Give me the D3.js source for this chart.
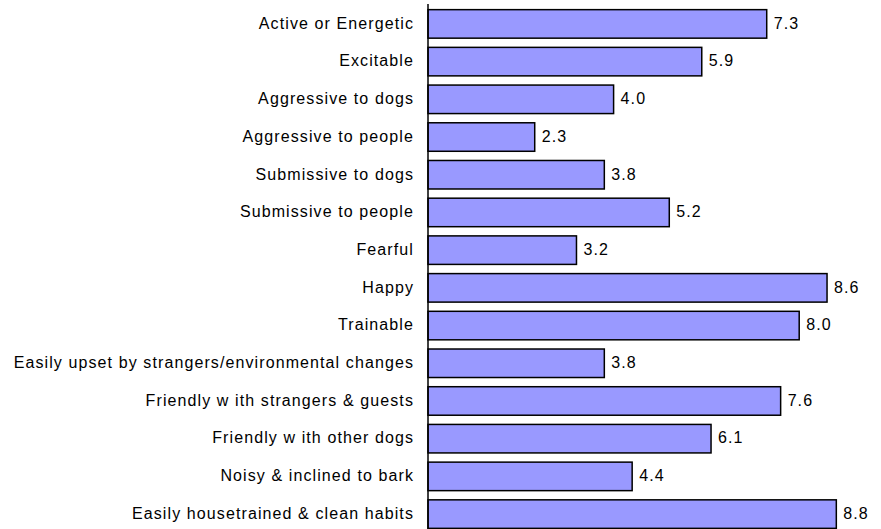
<!DOCTYPE html>
<html>
<head>
<meta charset="utf-8">
<script src="https://d3js.org/d3.v7.min.js"></script>
<style>
  body { margin: 0; background: #fff; }
  text { font-family: Arial, "Liberation Sans", sans-serif; font-size: 16px; letter-spacing: 1.1px; fill: #000; }
</style>
</head>
<body>
<div id="chart"></div>
<script>
// trait scores, top to bottom
var traits = [
  "Active or Energetic",
  "Excitable",
  "Aggressive to dogs",
  "Aggressive to people",
  "Submissive to dogs",
  "Submissive to people",
  "Fearful",
  "Happy",
  "Trainable",
  "Easily upset by strangers/environmental changes",
  "Friendly w ith strangers & guests",
  "Friendly w ith other dogs",
  "Noisy & inclined to bark",
  "Easily housetrained & clean habits"
];
var scores = [7.3, 5.9, 4.0, 2.3, 3.8, 5.2, 3.2, 8.6, 8.0, 3.8, 7.6, 6.1, 4.4, 8.8];

var width = 881, height = 529,
    axisX = 428;

var svg = d3.select("#chart").append("svg")
    .attr("width", width)
    .attr("height", height);

var x = d3.scaleLinear()
    .domain([0, 10])
    .range([axisX, axisX + 464]);

var y = d3.scaleBand()
    .domain(traits)
    .range([4, 534])
    .paddingInner(0.244)
    .paddingOuter(0.15);

var data = traits.map(function(t, i) { return {trait: t, score: scores[i]}; });

svg.selectAll(".bar")
    .data(data)
    .enter().append("rect")
      .attr("class", "bar")
      .attr("x", x(0))
      .attr("y", function(d) { return y(d.trait); })
      .attr("width", function(d) { return x(d.score) - x(0); })
      .attr("height", y.bandwidth())
      .attr("fill", "#9999ff")
      .attr("stroke", "#000")
      .attr("stroke-width", 1.5);

svg.selectAll(".val")
    .data(data)
    .enter().append("text")
      .attr("class", "val")
      .attr("x", function(d) { return x(d.score) + 7; })
      .attr("y", function(d) { return y(d.trait) + y.bandwidth() / 2; })
      .attr("dy", "0.3em")
      .text(function(d) { return d.score.toFixed(1); });

// category axis on the left
var yAxis = d3.axisLeft(y).tickSize(0).tickPadding(14);
var g = svg.append("g")
    .attr("transform", "translate(" + axisX + ",0)")
    .call(yAxis);
g.select(".domain").attr("stroke", "#000").attr("stroke-width", 1.5)
    .attr("d", "M0,4V529");
g.selectAll("text")
    .attr("dy", "0.3em")
    .style("font-size", "16px")
    .style("font-family", "Arial, 'Liberation Sans', sans-serif");
</script>
</body>
</html>
